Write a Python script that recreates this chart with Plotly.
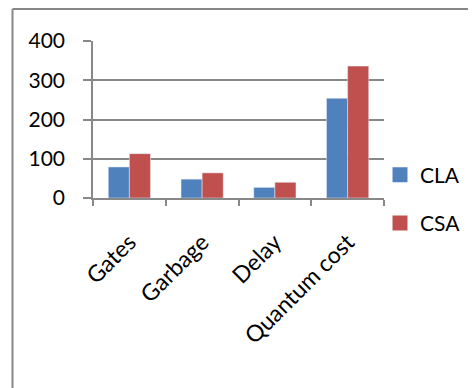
import plotly.graph_objects as go

categories = ["Gates", "Garbage", "Delay", "Quantum cost"]
cla_values = [79, 48, 27, 254]
csa_values = [113, 64, 40, 336]
y_ticks = [0, 100, 200, 300, 400]
series_names = ["CLA", "CSA"]
series_colors = ["#4F81BD", "#C0504D"]

fig = go.Figure()
for name, vals, col in zip(series_names, [cla_values, csa_values], series_colors):
    fig.add_trace(go.Bar(name=name, x=categories, y=vals, marker_color=col,
                         showlegend=False))
# legend entries with larger square keys
for i, (name, col) in enumerate(zip(series_names, series_colors)):
    fig.add_trace(go.Scatter(name=name, x=[None], y=[None], mode="markers",
                             marker=dict(symbol="square", size=15, color=col),
                             legendgroup=f"g{i}", showlegend=True))

# page body adds an 8px offset; work in screen coords and subtract it
OFF = 8
W, H = 476 - OFF, 388 - OFF
l, r, t, b = 93 - OFF, 92, 41 - OFF, 190
pw = W - l - r
ph = H - t - b

def px_x(x):
    return (x - OFF - l) / pw

def px_y(y):
    return (H - b - (y - OFF)) / ph

font = "Lato, Open Sans, sans-serif"
fig.update_layout(
    width=W, height=H,
    margin=dict(l=l, r=r, t=t, b=b, autoexpand=False),
    paper_bgcolor="white", plot_bgcolor="white",
    barmode="group", bargap=0.42, bargroupgap=0,
    font=dict(family=font, size=21, color="black"),
    showlegend=True,
    legend=dict(x=px_x(380), y=px_y(199), xanchor="left", yanchor="middle",
                font=dict(size=21), tracegroupgap=18, itemwidth=30,
                itemsizing="trace", bgcolor="rgba(0,0,0,0)"),
    xaxis=dict(showline=True, linecolor="#888888", linewidth=1.5,
               ticks="outside", ticklen=6, tickcolor="#888888", tickwidth=1.5,
               tickson="boundaries", tickangle=-45, tickfont=dict(size=23),
               ticklabelstandoff=20, showgrid=False, automargin=False),
    yaxis=dict(range=[0, 400], tickvals=y_ticks, showline=True, linecolor="#888888",
               linewidth=1.5, ticks="outside", ticklen=8, tickcolor="#888888",
               tickwidth=1.5, showgrid=True, gridcolor="#888888", gridwidth=1.5,
               zeroline=False, ticklabelstandoff=14, tickfont=dict(size=21),
               automargin=False),
    shapes=[
        dict(type="line", xref="paper", yref="paper", x0=px_x(12.5), x1=px_x(490),
             y0=px_y(9), y1=px_y(9), line=dict(color="#888888", width=2)),
        dict(type="line", xref="paper", yref="paper", x0=px_x(12.5), x1=px_x(12.5),
             y0=px_y(9), y1=px_y(400), line=dict(color="#888888", width=2)),
    ],
)

fig.write_html("out.html")
